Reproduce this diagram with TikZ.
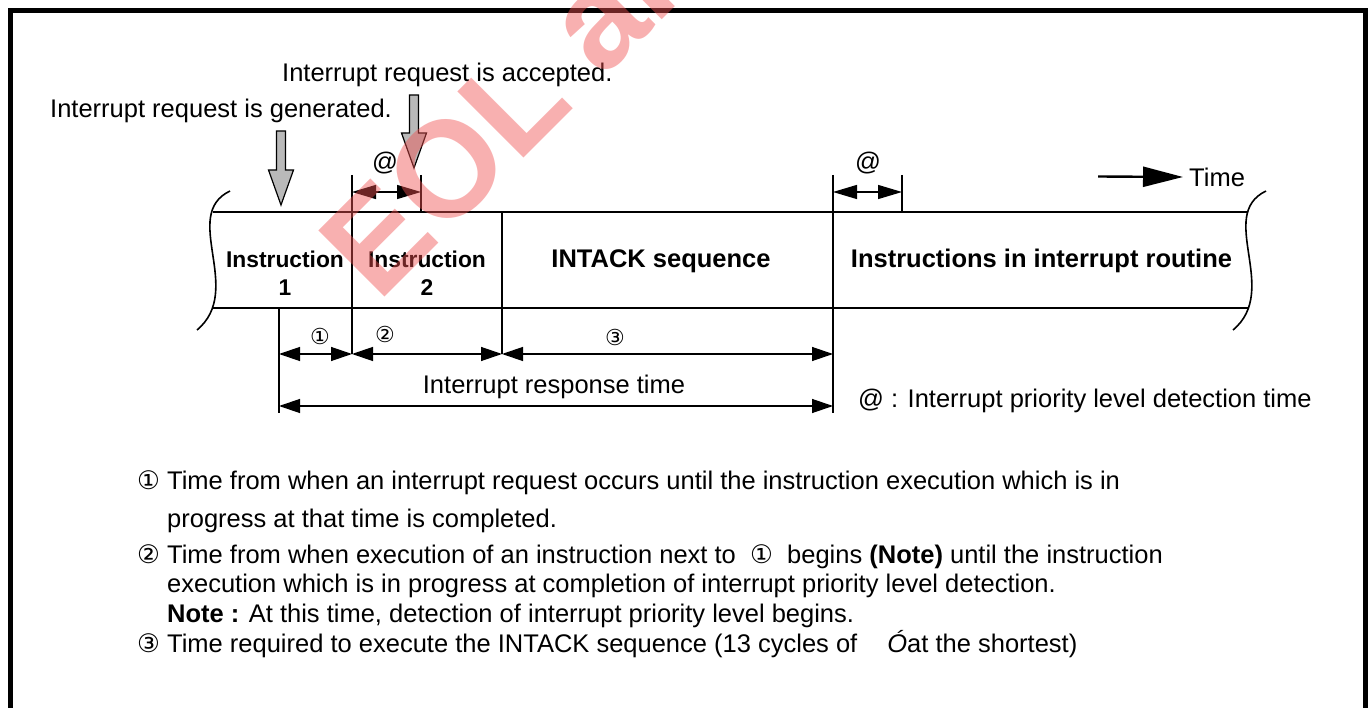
\documentclass[tikz,border=0pt]{standalone}
\usepackage{fontspec}
\setmainfont{Liberation Sans}
\newfontfamily\circfont{DejaVu Sans}
\usetikzlibrary{arrows.meta, positioning}
\definecolor{wmred}{RGB}{240,80,80}

\begin{document}
\begin{tikzpicture}[
    x=1pt, y=-1pt,
    txt/.style={inner sep=0pt, font=\fontsize{25.5}{30}\selectfont},
    cell/.style={inner sep=0pt, align=center, font=\bfseries\fontsize{25.5}{30}\selectfont},
    smallcell/.style={cell, font=\bfseries\fontsize{22.8}{28}\selectfont},
    num/.style={inner sep=0pt, font=\circfont\fontsize{22}{24}\selectfont},
    band/.style={line width=2.6pt},
    sep/.style={line width=1.6pt},
    tick/.style={line width=1.3pt},
    wave/.style={line width=1.6pt},
    dim/.style={line width=1.3pt, {Triangle[length=21pt, width=14pt]}-{Triangle[length=21pt, width=14pt]}},
    atdim/.style={line width=1.3pt, {Triangle[length=24pt, width=14pt]}-{Triangle[length=24pt, width=14pt]}},
    timearrow/.style={line width=2.4pt, -{Triangle[length=40pt, width=20pt]}},
    reqarrow/.style={draw, line width=1.2pt, fill=gray!55, line join=miter},
    frame/.style={line width=5pt},
    watermark/.style={inner sep=0pt, text=wmred, opacity=0.45, font=\bfseries\fontsize{136}{136}\selectfont},
]
    \useasboundingbox (0,0) rectangle (1370,708);
    \draw[frame] (10.5,708) -- (10.5,10.5) -- (1365.5,10.5) -- (1365.5,708);

    % request labels and their arrows
    \node[txt, anchor=base west] (gen) at (50,118) {Interrupt request is generated.};
    \node[txt, anchor=base west] (acc) at (282,82) {Interrupt request is accepted.};
    \filldraw[reqarrow] (276.5,131) -- (285.5,131) -- (285.5,170) -- (293.5,170) -- (281,205)
        -- (268.5,170) -- (276.5,170) -- cycle;
    \filldraw[reqarrow] (409.5,95) -- (418.5,95) -- (418.5,133) -- (426.5,133) -- (414,168)
        -- (401.5,133) -- (409.5,133) -- cycle;

    % time band
    \draw[band] (213,212) -- (1248,212);
    \draw[band] (213,308) -- (1248,308);
    \draw[wave] (230,191) .. controls (180,215) and (245,290) .. (197,330);
    \draw[wave] (1266,191) .. controls (1216,215) and (1281,290) .. (1233,330);
    \draw[sep] (352,175) -- (352,354);
    \draw[sep] (502,212) -- (502,354);
    \draw[sep] (833,175) -- (833,413);
    \draw[tick] (279,308) -- (279,413);
    \draw[tick] (421,175) -- (421,212);
    \draw[tick] (902,175) -- (902,212);

    \node[smallcell, anchor=north] (ins1) at (285,250.5) {Instruction\\1};
    \node[smallcell, anchor=north] (ins2) at (427,250.5) {Instruction\\2};
    \node[cell, anchor=base] (intack) at (661,268) {INTACK sequence};
    \node[cell, anchor=base] (routine) at (1041.5,268) {Instructions in interrupt routine};

    % detection time marks
    \coordinate (a1) at (352,192);
    \coordinate (a2) at (421,192);
    \coordinate (a3) at (833,192);
    \coordinate (a4) at (902,192);
    \node[txt] (at1) at (385,163) {@};
    \node[txt] (at2) at (868,163) {@};
    \draw[atdim] (a1) -- (a2);
    \draw[atdim] (a3) -- (a4);

    \node[txt, anchor=west] (time) at (1189,177) {Time};
    \coordinate (ttail) at (1098,176.5);
    \draw[timearrow] (ttail) -- ([xshift=-6pt]time.west);

    % response time
    \coordinate (c0) at (279,354);
    \coordinate (c1) at (352,354);
    \coordinate (c2) at (502,354);
    \coordinate (c3) at (833,354);
    \coordinate (r0) at (279,406);
    \coordinate (r1) at (833,406);
    \draw[dim] (c0) -- (c1);
    \draw[dim] (c1) -- (c2);
    \draw[dim] (c2) -- (c3);
    \draw[dim] (r0) -- (r1);
    \node[num] (n1) at (320,336) {①};
    \node[num] (n2) at (385,334) {②};
    \node[num] (n3) at (615,337) {③};
    \node[txt, anchor=base] (resp) at (554,393) {Interrupt response time};
    \node[txt, anchor=base west] (legend) at (858,407) {@ : Interrupt priority level detection time};

    % notes
    \node[txt, anchor=base west] (note1) at (137,489) {{\circfont ①} Time from when an interrupt request occurs until the instruction execution which is in};
    \node[txt, anchor=base west] (note1b) at (167,527) {progress at that time is completed.};
    \node[txt, anchor=base west] (note2) at (137,563) {{\circfont ②} Time from when execution of an instruction next to \ {\circfont ①} \ begins \textbf{(Note)} until the instruction};
    \node[txt, anchor=base west] (note2b) at (167,592) {execution which is in progress at completion of interrupt priority level detection.};
    \node[txt, anchor=base west] (note2c) at (167,622) {\textbf{Note :} At this time, detection of interrupt priority level begins.};
    \node[txt, anchor=base west] (note3) at (137,652) {{\circfont ③} Time required to execute the INTACK sequence (13 cycles of\hspace{30pt}\textit{Ó}at the shortest)};

    \begin{scope}
        \clip (0,0) rectangle (1370,708);
        \node[watermark, rotate=45, anchor=base west] (wm) at (378,304) {EOL an};
    \end{scope}
\end{tikzpicture}
\end{document}
